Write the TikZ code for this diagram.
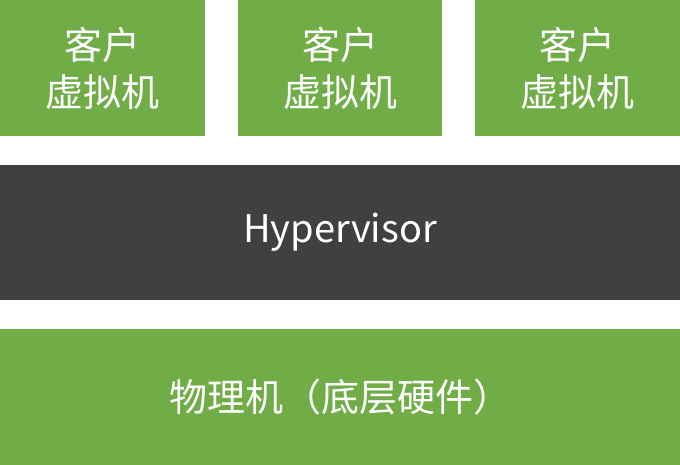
\documentclass[tikz,border=0pt]{standalone}
\usepackage{fontspec}
\setmainfont{Noto Sans CJK SC}
\usepackage{tikz}
\usetikzlibrary{positioning}

\definecolor{vmgreen}{HTML}{70AD47}
\definecolor{hvgray}{HTML}{404040}

\begin{document}
\begin{tikzpicture}[
    x=1pt, y=-1pt,
    box/.style={anchor=north west, inner sep=0pt, outer sep=0pt, text=white,
        font=\fontsize{38}{47}\selectfont, align=center},
    guestvm/.style={box, fill=vmgreen, minimum width=205pt, minimum height=136pt},
    hyper/.style={box, fill=hvgray, minimum width=680pt, minimum height=135pt},
    hostbox/.style={box, fill=vmgreen, minimum width=680pt, minimum height=136pt}
]
    \useasboundingbox (0,0) rectangle (680,465);

    \node[guestvm] (vm1) at (0,0) {客户\\虚拟机};
    \node[guestvm, minimum width=204pt] (vm2) at (238,0) {客户\\虚拟机};
    \node[guestvm] (vm3) at (475,0) {客户\\虚拟机};

    \node[hyper] (hv) at (0,165) {Hypervisor};

    \node[hostbox] (host) at (0,329) {物理机（底层硬件）};
\end{tikzpicture}
\end{document}
